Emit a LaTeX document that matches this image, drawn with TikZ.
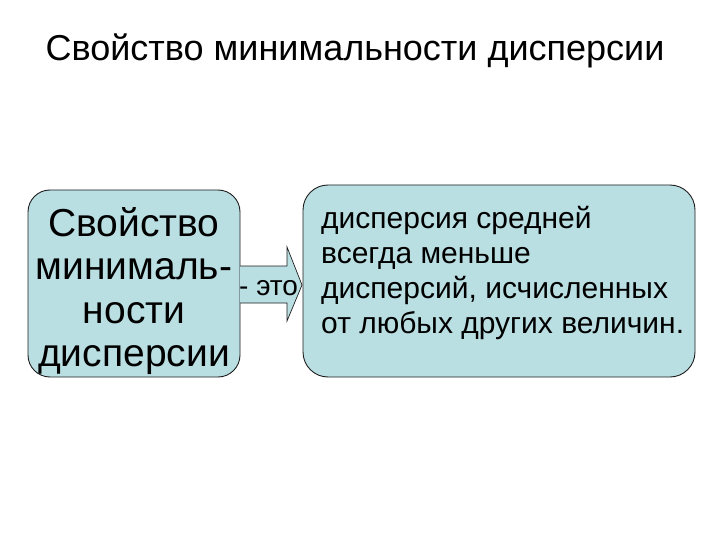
\documentclass[tikz,border=0pt]{standalone}
\usepackage{fontspec}
\setmainfont{Liberation Sans}
\definecolor{boxfill}{RGB}{186,223,227}
\definecolor{boxline}{RGB}{30,30,30}
\tikzset{
  box/.style={draw=boxline, line width=0.9pt, fill=boxfill, rounded corners=22pt},
  txt/.style={inner sep=0pt, text=black}
}
\begin{document}
\begin{tikzpicture}[x=1pt,y=-1pt]
\useasboundingbox (0,0) rectangle (720,540);
\fill[white] (0,0) rectangle (720,540);
% title
\node[txt, font=\fontsize{36}{40}\selectfont, anchor=base] (title) at (355,61) {Свойство минимальности дисперсии};
% left box
\draw[box] (28,190) rectangle (240,377);
\node[txt, align=center, font=\fontsize{39}{43.5}\selectfont] (left) at (134,291) {Свойство\\минималь-\\ности\\дисперсии};
% arrow
\draw[draw=boxline, line width=0.7pt, fill=boxfill] (240,266) -- (287,266) -- (287,247) -- (302,285) -- (287,321) -- (287,303) -- (240,303);
\node[txt, anchor=base west, font=\fontsize{28}{35}\selectfont] (eto) at (239,295) {- это};
% right box
\draw[box, rounded corners=25pt] (303,185) rectangle (695,377);
\node[txt, anchor=west, align=left, font=\fontsize{30}{35}\selectfont] (right) at (321,273) {дисперсия средней\\всегда меньше\\дисперсий, исчисленных\\от любых других величин.};
\end{tikzpicture}
\end{document}
